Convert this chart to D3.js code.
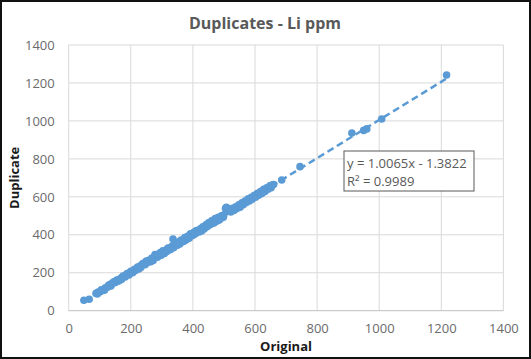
<!DOCTYPE html>
<html>
<head>
<meta charset="utf-8">
<script src="https://cdn.jsdelivr.net/npm/d3@7"></script>
<style>
html,body{margin:0;padding:0;background:#fff;}
svg{display:block;}
</style>
</head>
<body>
<svg id="chart" width="531" height="359"></svg>
<script>
const chartTitle = "Duplicates - Li ppm";
const xTitle = "Original";
const yTitle = "Duplicate";
const xTicks = [0,200,400,600,800,1000,1200,1400];
const yTicks = [0,200,400,600,800,1000,1200,1400];
const original = [49,66,88,95,102,110,118,125,132,140,146,150,158,165,172,178,184,190,196,202,208,212,218,224,228,234,238,242,248,252,256,262,266,270,275,278,284,288,292,296,300,305,310,314,318,322,326,332,336,340,344,348,352,356,360,364,368,372,376,380,385,390,394,398,402,406,410,414,418,422,426,430,434,438,442,446,450,455,460,465,470,475,480,485,490,495,500,505,510,515,520,525,530,535,540,545,550,555,560,565,570,575,580,585,590,595,600,605,610,615,620,625,630,635,640,645,650,686,745,912,950,960,1008,1217,
  92,105,115,128,136,144,155,162,170,175,182,188,194,200,206,215,222,226,232,240,246,250,258,264,268,272,280,286,294,298,303,308,316,320,328,334,338,342,350,354,358,362,370,374,378,383,388,392,396,400,404,408,412,420,424,428,432,436,440,444,448,452,458,462,468,472,478,482,488,492,498,508,512,518,522,528,532,538,542,548,552,558,562,568,572,578,582,588,592,598,602,608,612,618,622,628,632,638,642,648,652,655,660];
const duplicate = [55,60,92,98,100,112,121,124,138,145,152,148,155,168,176,180,188,192,200,205,210,218,220,228,232,240,245,244,252,258,255,262,270,268,282,296,290,292,298,300,302,310,312,318,325,322,330,335,378,345,352,348,355,360,366,368,372,376,380,385,388,392,400,402,408,410,418,416,422,425,428,435,438,442,440,448,458,462,470,468,475,480,488,478,490,498,505,540,535,530,525,528,535,540,545,548,552,560,565,568,575,580,585,588,592,598,605,610,615,618,625,630,635,640,645,650,655,689,759,936,950,958,1010,1242,
  88,110,108,132,130,150,162,158,165,182,178,196,188,208,200,212,230,220,228,250,242,262,265,258,278,265,285,282,305,292,315,302,312,330,322,342,332,355,345,362,352,372,365,385,372,392,382,405,395,398,415,405,422,415,432,420,442,430,448,455,445,465,455,475,462,485,472,492,485,500,492,545,528,535,520,540,528,548,538,558,545,568,558,578,570,590,578,598,588,608,598,618,608,628,618,640,628,648,640,658,648,662,665];
const slope = 1.0065, intercept = -1.3822;
const eqText = "y = 1.0065x - 1.3822";
const r2Text = "R² = 0.9989";

(function(){
const svg = d3.select("#chart");
const W = 531, H = 359;
const pL = 68.7, pR = 503.4, pT = 45, pB = 310.7;
const x = d3.scaleLinear().domain([0,1400]).range([pL,pR]);
const y = d3.scaleLinear().domain([0,1400]).range([pB,pT]);
const font = "'Open Sans', 'Noto Sans', sans-serif";

svg.append("rect").attr("x",1).attr("y",1).attr("width",W-2).attr("height",H-2)
  .attr("fill","#fff").attr("stroke","#111").attr("stroke-width",2);

const grid = svg.append("g");
grid.selectAll(".gx").data(xTicks).enter().append("line")
  .attr("x1",d=>x(d)).attr("x2",d=>x(d)).attr("y1",pT).attr("y2",pB)
  .attr("stroke","#d9d9d9").attr("stroke-width",1);
grid.selectAll(".gy").data(yTicks).enter().append("line")
  .attr("x1",pL).attr("x2",pR).attr("y1",d=>y(d)).attr("y2",d=>y(d))
  .attr("stroke",d=>d===0?"#bfbfbf":"#d9d9d9").attr("stroke-width",1);

const fmt = d3.format("d");
const xAxis = svg.append("g").attr("transform",`translate(0,${pB})`)
  .call(d3.axisBottom(x).tickValues(xTicks).tickFormat(fmt).tickSize(0).tickPadding(13));
const yAxis = svg.append("g").attr("transform",`translate(${pL},0)`)
  .call(d3.axisLeft(y).tickValues(yTicks).tickFormat(fmt).tickSize(0).tickPadding(14));
[xAxis,yAxis].forEach(a=>{
  a.select(".domain").remove();
  a.selectAll("text").attr("font-family",font).attr("font-size","13px").attr("fill","#6b6b6b");
});

const x0 = d3.min(original), x1 = d3.max(original);
svg.append("line")
  .attr("x1",x(x0)).attr("y1",y(slope*x0+intercept))
  .attr("x2",x(x1)).attr("y2",y(slope*x1+intercept))
  .attr("stroke","#5b9bd5").attr("stroke-width",2.5).attr("stroke-dasharray","7,4");

svg.append("g").selectAll("circle").data(original.map((d,i)=>[d,duplicate[i]])).enter()
  .append("circle").attr("cx",d=>x(d[0])).attr("cy",d=>y(d[1])).attr("r",3.8)
  .attr("fill","#5b9bd5");

const bx = 344, by = 151, bw = 130, bh = 40;
svg.append("rect").attr("x",bx).attr("y",by).attr("width",bw).attr("height",bh)
  .attr("fill","#fff").attr("stroke","#595959").attr("stroke-width",1);
svg.append("text").attr("x",bx+3).attr("y",by+17).text(eqText)
  .attr("font-family",font).attr("font-size","13px").attr("fill","#595959");
svg.append("text").attr("x",bx+3).attr("y",by+35).text(r2Text)
  .attr("font-family",font).attr("font-size","13px").attr("fill","#595959");

svg.append("text").attr("x",265).attr("y",29).attr("text-anchor","middle")
  .text(chartTitle).attr("font-family",font).attr("font-size","16px")
  .attr("font-weight","bold").attr("fill","#595959");
svg.append("text").attr("x",(pL+pR)/2).attr("y",351).attr("text-anchor","middle")
  .text(xTitle).attr("font-family",font).attr("font-size","13px")
  .attr("font-weight","bold").attr("fill","#1a1a1a");
svg.append("text").attr("transform",`translate(19,${(pT+pB)/2}) rotate(-90)`)
  .attr("text-anchor","middle")
  .text(yTitle).attr("font-family",font).attr("font-size","13px")
  .attr("font-weight","bold").attr("fill","#1a1a1a");
})();
</script>
</body>
</html>
